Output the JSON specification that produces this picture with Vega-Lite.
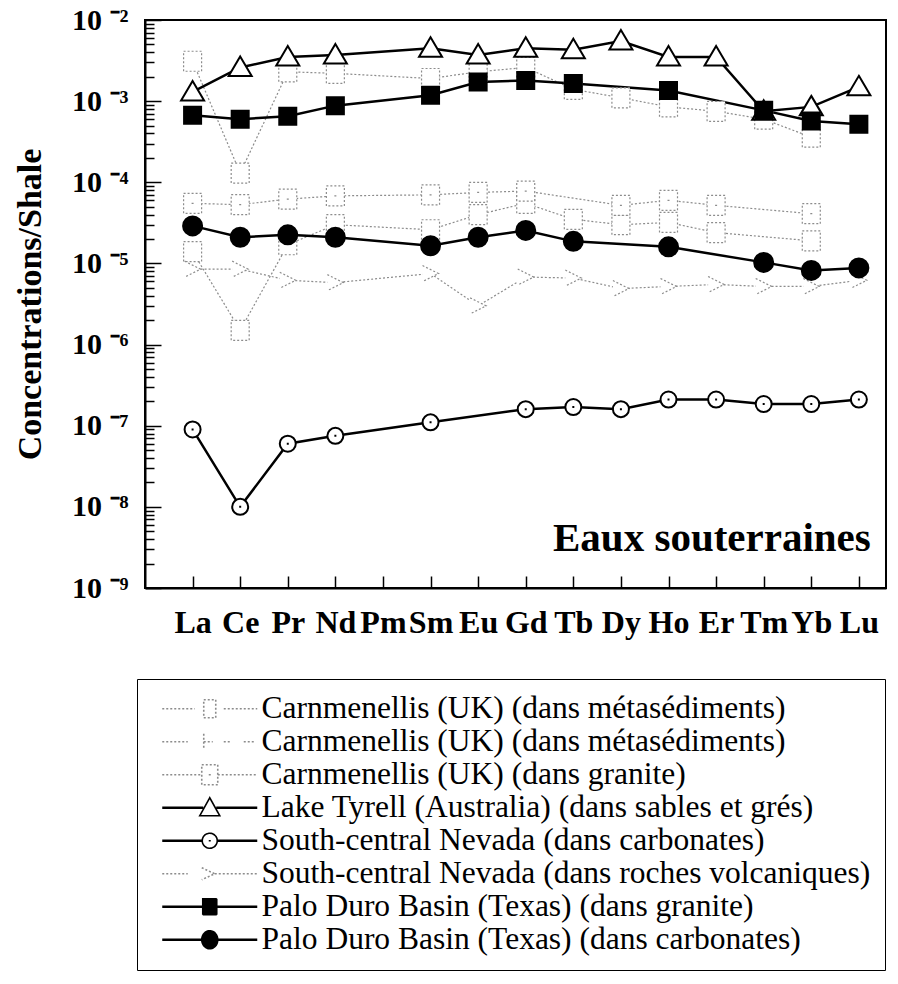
{
  "$schema": "https://vega.github.io/schema/vega-lite/v6.json",
  "width": 741,
  "height": 568,
  "autosize": {"type": "none"},
  "padding": {"left": 145, "top": 20, "right": 12, "bottom": 396},
  "background": "white",
  "config": {
    "view": {"stroke": "black", "strokeWidth": 2},
    "axis": {"grid": false, "domainColor": "black", "domainWidth": 2, "tickColor": "black", "tickWidth": 1.5, "labelColor": "black", "titleColor": "black", "labelFlush": false, "labelOverlap": false},
    "legend": {
      "orient": "none", "legendX": -8, "legendY": 659,
      "strokeColor": "black", "fillColor": "white", "padding": 14,
      "symbolSize": 400, "symbolStrokeWidth": 1.6, "symbolOffset": 43, "symbolOpacity": 1, "labelOffset": 36,
      "labelFont": "Liberation Serif", "labelFontSize": 31.5, "labelColor": "black", "labelLimit": 0, "rowPadding": 0
    }
  },
  "datasets": {
    "rows": [
      {"s": "Carnmenellis (UK) (dans métasédiments)", "z": 57, "v": 0.0031},
      {"s": "Carnmenellis (UK) (dans métasédiments)", "z": 58, "v": 0.00013},
      {"s": "Carnmenellis (UK) (dans métasédiments)", "z": 59, "v": 0.0023},
      {"s": "Carnmenellis (UK) (dans métasédiments)", "z": 60, "v": 0.0022},
      {"s": "Carnmenellis (UK) (dans métasédiments)", "z": 62, "v": 0.0019},
      {"s": "Carnmenellis (UK) (dans métasédiments)", "z": 63, "v": 0.0023},
      {"s": "Carnmenellis (UK) (dans métasédiments)", "z": 64, "v": 0.0026},
      {"s": "Carnmenellis (UK) (dans métasédiments)", "z": 65, "v": 0.0014},
      {"s": "Carnmenellis (UK) (dans métasédiments)", "z": 66, "v": 0.0011},
      {"s": "Carnmenellis (UK) (dans métasédiments)", "z": 67, "v": 0.00085},
      {"s": "Carnmenellis (UK) (dans métasédiments)", "z": 68, "v": 0.00075},
      {"s": "Carnmenellis (UK) (dans métasédiments)", "z": 69, "v": 0.0006},
      {"s": "Carnmenellis (UK) (dans métasédiments)", "z": 70, "v": 0.00036},
      {"s": "Carnmenellis (UK) (dans métasédiments) ", "z": 57, "v": 0.000014},
      {"s": "Carnmenellis (UK) (dans métasédiments) ", "z": 58, "v": 0.0000015},
      {"s": "Carnmenellis (UK) (dans métasédiments) ", "z": 59, "v": 0.000017},
      {"s": "Carnmenellis (UK) (dans métasédiments) ", "z": 60, "v": 0.00003},
      {"s": "Carnmenellis (UK) (dans métasédiments) ", "z": 62, "v": 0.000026},
      {"s": "Carnmenellis (UK) (dans métasédiments) ", "z": 63, "v": 0.00004},
      {"s": "Carnmenellis (UK) (dans métasédiments) ", "z": 64, "v": 0.000055},
      {"s": "Carnmenellis (UK) (dans métasédiments) ", "z": 65, "v": 0.000035},
      {"s": "Carnmenellis (UK) (dans métasédiments) ", "z": 66, "v": 0.00003},
      {"s": "Carnmenellis (UK) (dans métasédiments) ", "z": 67, "v": 0.000032},
      {"s": "Carnmenellis (UK) (dans métasédiments) ", "z": 68, "v": 0.000024},
      {"s": "Carnmenellis (UK) (dans métasédiments) ", "z": 70, "v": 0.000019},
      {"s": "Carnmenellis (UK) (dans granite)", "z": 57, "v": 0.000055},
      {"s": "Carnmenellis (UK) (dans granite)", "z": 58, "v": 0.000053},
      {"s": "Carnmenellis (UK) (dans granite)", "z": 59, "v": 0.000062},
      {"s": "Carnmenellis (UK) (dans granite)", "z": 60, "v": 0.000068},
      {"s": "Carnmenellis (UK) (dans granite)", "z": 62, "v": 0.00007},
      {"s": "Carnmenellis (UK) (dans granite)", "z": 63, "v": 0.000075},
      {"s": "Carnmenellis (UK) (dans granite)", "z": 64, "v": 0.000078},
      {"s": "Carnmenellis (UK) (dans granite)", "z": 66, "v": 0.000052},
      {"s": "Carnmenellis (UK) (dans granite)", "z": 67, "v": 0.00006},
      {"s": "Carnmenellis (UK) (dans granite)", "z": 68, "v": 0.000052},
      {"s": "Carnmenellis (UK) (dans granite)", "z": 70, "v": 0.000041},
      {"s": "South-central Nevada (dans roches volcaniques)", "z": 57, "v": 0.0000085},
      {"s": "South-central Nevada (dans roches volcaniques)", "z": 58, "v": 0.0000085},
      {"s": "South-central Nevada (dans roches volcaniques)", "z": 59, "v": 0.0000062},
      {"s": "South-central Nevada (dans roches volcaniques)", "z": 60, "v": 0.0000058},
      {"s": "South-central Nevada (dans roches volcaniques)", "z": 62, "v": 0.0000075},
      {"s": "South-central Nevada (dans roches volcaniques)", "z": 63, "v": 0.000003},
      {"s": "South-central Nevada (dans roches volcaniques)", "z": 64, "v": 0.0000068},
      {"s": "South-central Nevada (dans roches volcaniques)", "z": 65, "v": 0.0000066},
      {"s": "South-central Nevada (dans roches volcaniques)", "z": 66, "v": 0.0000049},
      {"s": "South-central Nevada (dans roches volcaniques)", "z": 67, "v": 0.0000052},
      {"s": "South-central Nevada (dans roches volcaniques)", "z": 68, "v": 0.0000055},
      {"s": "South-central Nevada (dans roches volcaniques)", "z": 69, "v": 0.0000052},
      {"s": "South-central Nevada (dans roches volcaniques)", "z": 70, "v": 0.0000052},
      {"s": "South-central Nevada (dans roches volcaniques)", "z": 71, "v": 0.0000062},
      {"s": "Lake Tyrell (Australia) (dans sables et grés)", "z": 57, "v": 0.0013},
      {"s": "Lake Tyrell (Australia) (dans sables et grés)", "z": 58, "v": 0.0026},
      {"s": "Lake Tyrell (Australia) (dans sables et grés)", "z": 59, "v": 0.0035},
      {"s": "Lake Tyrell (Australia) (dans sables et grés)", "z": 60, "v": 0.0037},
      {"s": "Lake Tyrell (Australia) (dans sables et grés)", "z": 62, "v": 0.0045},
      {"s": "Lake Tyrell (Australia) (dans sables et grés)", "z": 63, "v": 0.0037},
      {"s": "Lake Tyrell (Australia) (dans sables et grés)", "z": 64, "v": 0.0045},
      {"s": "Lake Tyrell (Australia) (dans sables et grés)", "z": 65, "v": 0.0043},
      {"s": "Lake Tyrell (Australia) (dans sables et grés)", "z": 66, "v": 0.0055},
      {"s": "Lake Tyrell (Australia) (dans sables et grés)", "z": 67, "v": 0.0035},
      {"s": "Lake Tyrell (Australia) (dans sables et grés)", "z": 68, "v": 0.0035},
      {"s": "Lake Tyrell (Australia) (dans sables et grés)", "z": 69, "v": 0.00075},
      {"s": "Lake Tyrell (Australia) (dans sables et grés)", "z": 70, "v": 0.00085},
      {"s": "Lake Tyrell (Australia) (dans sables et grés)", "z": 71, "v": 0.0015},
      {"s": "South-central Nevada (dans carbonates)", "z": 57, "v": 0.00000009},
      {"s": "South-central Nevada (dans carbonates)", "z": 58, "v": 0.00000001},
      {"s": "South-central Nevada (dans carbonates)", "z": 59, "v": 0.00000006},
      {"s": "South-central Nevada (dans carbonates)", "z": 60, "v": 0.000000075},
      {"s": "South-central Nevada (dans carbonates)", "z": 62, "v": 0.00000011},
      {"s": "South-central Nevada (dans carbonates)", "z": 64, "v": 0.00000016},
      {"s": "South-central Nevada (dans carbonates)", "z": 65, "v": 0.00000017},
      {"s": "South-central Nevada (dans carbonates)", "z": 66, "v": 0.00000016},
      {"s": "South-central Nevada (dans carbonates)", "z": 67, "v": 0.00000021},
      {"s": "South-central Nevada (dans carbonates)", "z": 68, "v": 0.00000021},
      {"s": "South-central Nevada (dans carbonates)", "z": 69, "v": 0.000000185},
      {"s": "South-central Nevada (dans carbonates)", "z": 70, "v": 0.000000185},
      {"s": "South-central Nevada (dans carbonates)", "z": 71, "v": 0.00000021},
      {"s": "Palo Duro Basin (Texas) (dans granite)", "z": 57, "v": 0.00067},
      {"s": "Palo Duro Basin (Texas) (dans granite)", "z": 58, "v": 0.0006},
      {"s": "Palo Duro Basin (Texas) (dans granite)", "z": 59, "v": 0.00065},
      {"s": "Palo Duro Basin (Texas) (dans granite)", "z": 60, "v": 0.00088},
      {"s": "Palo Duro Basin (Texas) (dans granite)", "z": 62, "v": 0.00118},
      {"s": "Palo Duro Basin (Texas) (dans granite)", "z": 63, "v": 0.00172},
      {"s": "Palo Duro Basin (Texas) (dans granite)", "z": 64, "v": 0.0018},
      {"s": "Palo Duro Basin (Texas) (dans granite)", "z": 65, "v": 0.00165},
      {"s": "Palo Duro Basin (Texas) (dans granite)", "z": 67, "v": 0.00135},
      {"s": "Palo Duro Basin (Texas) (dans granite)", "z": 69, "v": 0.00077},
      {"s": "Palo Duro Basin (Texas) (dans granite)", "z": 70, "v": 0.00057},
      {"s": "Palo Duro Basin (Texas) (dans granite)", "z": 71, "v": 0.00052},
      {"s": "Palo Duro Basin (Texas) (dans carbonates)", "z": 57, "v": 0.000029},
      {"s": "Palo Duro Basin (Texas) (dans carbonates)", "z": 58, "v": 0.000021},
      {"s": "Palo Duro Basin (Texas) (dans carbonates)", "z": 59, "v": 0.0000225},
      {"s": "Palo Duro Basin (Texas) (dans carbonates)", "z": 60, "v": 0.000021},
      {"s": "Palo Duro Basin (Texas) (dans carbonates)", "z": 62, "v": 0.0000165},
      {"s": "Palo Duro Basin (Texas) (dans carbonates)", "z": 63, "v": 0.000021},
      {"s": "Palo Duro Basin (Texas) (dans carbonates)", "z": 64, "v": 0.0000255},
      {"s": "Palo Duro Basin (Texas) (dans carbonates)", "z": 65, "v": 0.0000187},
      {"s": "Palo Duro Basin (Texas) (dans carbonates)", "z": 67, "v": 0.000016},
      {"s": "Palo Duro Basin (Texas) (dans carbonates)", "z": 69, "v": 0.0000103},
      {"s": "Palo Duro Basin (Texas) (dans carbonates)", "z": 70, "v": 0.0000082},
      {"s": "Palo Duro Basin (Texas) (dans carbonates)", "z": 71, "v": 0.0000088}
    ],
    "note": [
      {"label": "Eaux souterraines", "z": 71.25, "v": 0.000000004}
    ]
  },
  "encoding": {
    "x": {
      "field": "z", "type": "quantitative",
      "scale": {"domain": [56, 71.57], "nice": false, "zero": false},
      "axis": {
        "values": [57, 58, 59, 60, 61, 62, 63, 64, 65, 66, 67, 68, 69, 70, 71],
        "labelExpr": "['La','Ce','Pr','Nd','Pm','Sm','Eu','Gd','Tb','Dy','Ho','Er','Tm','Yb','Lu'][datum.value - 57]",
        "tickSize": -12, "labelPadding": 31,
        "labelFont": "Liberation Serif", "labelFontWeight": "bold", "labelFontSize": 32,
        "title": null
      }
    },
    "y": {
      "field": "v", "type": "quantitative",
      "scale": {"type": "log", "domain": [1e-9, 0.01], "nice": false},
      "axis": {
        "values": [1e-9, 2e-9, 3e-9, 4e-9, 5e-9, 6e-9, 7e-9, 8e-9, 9e-9,
                   1e-8, 2e-8, 3e-8, 4e-8, 5e-8, 6e-8, 7e-8, 8e-8, 9e-8,
                   1e-7, 2e-7, 3e-7, 4e-7, 5e-7, 6e-7, 7e-7, 8e-7, 9e-7,
                   1e-6, 2e-6, 3e-6, 4e-6, 5e-6, 6e-6, 7e-6, 8e-6, 9e-6,
                   1e-5, 2e-5, 3e-5, 4e-5, 5e-5, 6e-5, 7e-5, 8e-5, 9e-5,
                   1e-4, 2e-4, 3e-4, 4e-4, 5e-4, 6e-4, 7e-4, 8e-4, 9e-4,
                   1e-3, 2e-3, 3e-3, 4e-3, 5e-3, 6e-3, 7e-3, 8e-3, 9e-3, 1e-2],
        "labelExpr": "abs(log(datum.value)/LN10 - round(log(datum.value)/LN10)) < 0.000001 ? '10 ⁻' + ['⁰','¹','²','³','⁴','⁵','⁶','⁷','⁸','⁹'][-round(log(datum.value)/LN10)] : ''",
        "tickSize": {"condition": {"test": "abs(log(datum.value)/LN10 - round(log(datum.value)/LN10)) < 0.000001", "value": -16}, "value": -9},
        "labelPadding": 33,
        "labelFont": "Liberation Serif", "labelFontWeight": "bold", "labelFontSize": 30,
        "title": "Concentrations/Shale",
        "titleFont": "Liberation Serif", "titleFontWeight": "bold", "titleFontSize": 34,
        "titleX": -115, "titleY": 284, "titleAngle": -90, "titleAlign": "center", "titleBaseline": "middle"
      }
    }
  },
  "layer": [
    {
      "data": {"name": "rows"},
      "transform": [{"filter": "indexof(['Carnmenellis (UK) (dans métasédiments)','Carnmenellis (UK) (dans métasédiments) ','Carnmenellis (UK) (dans granite)','South-central Nevada (dans roches volcaniques)'], datum.s) >= 0"}],
      "mark": {"type": "line", "stroke": "#8c8c8c", "strokeWidth": 1.2, "strokeDash": [2, 2]},
      "encoding": {"detail": {"field": "s", "type": "nominal"}}
    },
    {
      "data": {"name": "rows"},
      "transform": [{"filter": "indexof(['Lake Tyrell (Australia) (dans sables et grés)','South-central Nevada (dans carbonates)','Palo Duro Basin (Texas) (dans granite)','Palo Duro Basin (Texas) (dans carbonates)'], datum.s) >= 0"}],
      "mark": {"type": "line", "stroke": "black", "strokeWidth": 2.5},
      "encoding": {"detail": {"field": "s", "type": "nominal"}}
    },
    {
      "data": {"name": "rows"},
      "transform": [{"filter": "indexof(['Carnmenellis (UK) (dans métasédiments)','Carnmenellis (UK) (dans métasédiments) ','Carnmenellis (UK) (dans granite)','South-central Nevada (dans roches volcaniques)'], datum.s) >= 0"}],
      "mark": {"type": "point", "size": 400, "stroke": "#8c8c8c", "strokeWidth": 1.2, "strokeDash": [2, 2], "fill": "white", "opacity": 1, "fillOpacity": 1},
      "encoding": {
        "shape": {
          "field": "s", "type": "nominal", "legend": null,
          "scale": {
            "domain": ["Carnmenellis (UK) (dans métasédiments)", "Carnmenellis (UK) (dans métasédiments) ", "Carnmenellis (UK) (dans granite)", "South-central Nevada (dans roches volcaniques)"],
            "range": ["M-0.9,-1H0.9V1H-0.9Z", "M-0.9,-1H0.9V1H-0.9Z", "M-0.9,-1H0.9V1H-0.9Z M-0.1,0H0.1", "M-0.8,-0.8L0.8,0L-0.8,0.8"]
          }
        }
      }
    },
    {
      "data": {"name": "rows"},
      "transform": [{"filter": "indexof(['Lake Tyrell (Australia) (dans sables et grés)','South-central Nevada (dans carbonates)','Palo Duro Basin (Texas) (dans granite)','Palo Duro Basin (Texas) (dans carbonates)'], datum.s) >= 0"}],
      "mark": {"type": "point", "size": 400, "stroke": "black", "strokeWidth": 2, "opacity": 1, "fillOpacity": 1},
      "encoding": {
        "shape": {
          "field": "s", "type": "nominal", "legend": null,
          "scale": {
            "domain": ["Lake Tyrell (Australia) (dans sables et grés)", "South-central Nevada (dans carbonates)", "Palo Duro Basin (Texas) (dans granite)", "Palo Duro Basin (Texas) (dans carbonates)"],
            "range": ["M0,-1.1L1.15,0.85L-1.15,0.85Z", "M-0.8,0A0.8,0.8 0 1,1 0.8,0A0.8,0.8 0 1,1 -0.8,0Z M-0.1,0H0.1", "M-0.85,-0.85H0.85V0.85H-0.85Z", "M-0.95,0A0.95,0.95 0 1,1 0.95,0A0.95,0.95 0 1,1 -0.95,0Z"]
          }
        },
        "fill": {
          "field": "s", "type": "nominal", "legend": null,
          "scale": {
            "domain": ["Lake Tyrell (Australia) (dans sables et grés)", "South-central Nevada (dans carbonates)", "Palo Duro Basin (Texas) (dans granite)", "Palo Duro Basin (Texas) (dans carbonates)"],
            "range": ["white", "white", "black", "black"]
          }
        }
      }
    },
    {
      "data": {"name": "rows"},
      "transform": [{"filter": "datum.v < 0"}],
      "mark": {"type": "point", "size": 400, "opacity": 1},
      "encoding": {
        "shape": {
          "field": "s", "type": "nominal", "legend": {"title": null},
          "scale": {
            "domain": ["Carnmenellis (UK) (dans métasédiments)", "Carnmenellis (UK) (dans métasédiments) ", "Carnmenellis (UK) (dans granite)", "Lake Tyrell (Australia) (dans sables et grés)", "South-central Nevada (dans carbonates)", "South-central Nevada (dans roches volcaniques)", "Palo Duro Basin (Texas) (dans granite)", "Palo Duro Basin (Texas) (dans carbonates)"],
            "range": [
              "M-4.75,0H-1.5 M-0.6,-0.9H0.6V0.9H-0.6Z M1.4,0H4.75",
              "M-4.75,0H-2.2 M-0.6,-0.8V0.8 M-0.6,0H0.3 M1.4,0H2.2 M3.4,0H4.4",
              "M-4.75,0H-0.8 M-0.8,-1H0.8V1H-0.8Z M-0.1,0H0.1 M0.8,0H4.75",
              "M-4.75,0.04H-0.65 M-4.75,-0.04H-0.65 M0.65,0.04H4.75 M0.65,-0.04H4.75 M0,-1.0L1.0,0.8L-1.0,0.8Z",
              "M-4.75,0.04H-0.75 M-4.75,-0.04H-0.75 M0.75,0.04H4.75 M0.75,-0.04H4.75 M-0.75,0A0.75,0.75 0 1,1 0.75,0A0.75,0.75 0 1,1 -0.75,0Z M-0.1,0H0.1",
              "M-4.75,0H-2.2 M-0.8,-0.6L0.5,0L-0.8,0.6 M0.5,0H4.75",
              "M-4.75,0.04H-0.7 M-4.75,-0.04H-0.7 M0.7,0.04H4.75 M0.7,-0.04H4.75 M-0.7,-0.8H0.7V0.8H-0.7Z",
              "M-4.75,0.04H-0.8 M-4.75,-0.04H-0.8 M0.8,0.04H4.75 M0.8,-0.04H4.75 M-0.8,0A0.8,0.9 0 1,1 0.8,0A0.8,0.9 0 1,1 -0.8,0Z"
            ]
          }
        },
        "fill": {
          "field": "s", "type": "nominal", "legend": {"title": null},
          "scale": {
            "domain": ["Carnmenellis (UK) (dans métasédiments)", "Carnmenellis (UK) (dans métasédiments) ", "Carnmenellis (UK) (dans granite)", "Lake Tyrell (Australia) (dans sables et grés)", "South-central Nevada (dans carbonates)", "South-central Nevada (dans roches volcaniques)", "Palo Duro Basin (Texas) (dans granite)", "Palo Duro Basin (Texas) (dans carbonates)"],
            "range": ["white", "white", "white", "white", "white", "white", "black", "black"]
          }
        },
        "stroke": {
          "field": "s", "type": "nominal", "legend": {"title": null},
          "scale": {
            "domain": ["Carnmenellis (UK) (dans métasédiments)", "Carnmenellis (UK) (dans métasédiments) ", "Carnmenellis (UK) (dans granite)", "Lake Tyrell (Australia) (dans sables et grés)", "South-central Nevada (dans carbonates)", "South-central Nevada (dans roches volcaniques)", "Palo Duro Basin (Texas) (dans granite)", "Palo Duro Basin (Texas) (dans carbonates)"],
            "range": ["#8c8c8c", "#8c8c8c", "#8c8c8c", "black", "black", "#8c8c8c", "black", "black"]
          }
        },
        "strokeDash": {
          "field": "s", "type": "nominal", "legend": {"title": null},
          "scale": {
            "domain": ["Carnmenellis (UK) (dans métasédiments)", "Carnmenellis (UK) (dans métasédiments) ", "Carnmenellis (UK) (dans granite)", "Lake Tyrell (Australia) (dans sables et grés)", "South-central Nevada (dans carbonates)", "South-central Nevada (dans roches volcaniques)", "Palo Duro Basin (Texas) (dans granite)", "Palo Duro Basin (Texas) (dans carbonates)"],
            "range": [[2, 2], [2, 2], [2, 2], [1, 0], [1, 0], [2, 2], [1, 0], [1, 0]]
          }
        }
      }
    },
    {
      "data": {"name": "note"},
      "mark": {"type": "text", "align": "right", "baseline": "middle", "font": "Liberation Serif", "fontWeight": "bold", "fontSize": 41, "color": "black"},
      "encoding": {"text": {"field": "label", "type": "nominal"}}
    }
  ],
  "resolve": {"scale": {"shape": "independent", "fill": "independent", "stroke": "independent", "strokeDash": "independent"}}
}
